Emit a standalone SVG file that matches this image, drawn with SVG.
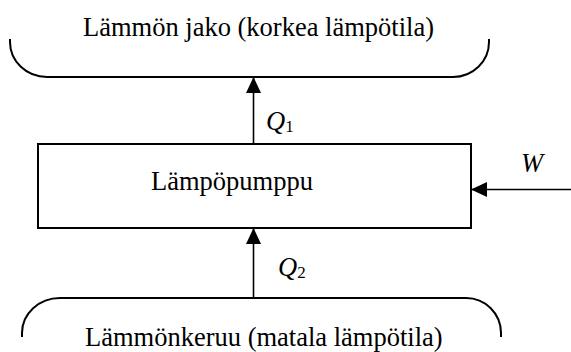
<svg xmlns="http://www.w3.org/2000/svg" width="571" height="352" viewBox="0 0 571 352">
  <style>
    text { font-family: "Times New Roman", "Liberation Serif", Times, serif; fill: #000; }
    .lbl { font-size: 26.5px; }
    .var { font-style: italic; font-size: 26.5px; }
    .sub { font-style: normal; font-size: 17px; }
    .edge { stroke: #000; stroke-width: 1.6; fill: none; }
    .brace { stroke: #000; stroke-width: 2; fill: none; }
  </style>
  <defs>
    <marker id="arrow" viewBox="0 0 16 15" refX="16" refY="7.5" markerWidth="16" markerHeight="15" markerUnits="userSpaceOnUse" orient="auto">
      <path d="M0,0 L16,7.5 L0,15 Z" fill="#000"/>
    </marker>
  </defs>

  <!-- heat distribution (high temperature) -->
  <g id="jako">
    <path class="brace" d="M10,39 V42 A37,35 0 0 0 47,77 H453 A36,35 0 0 0 489,42 V39"/>
    <text class="lbl" x="83" y="36">Lämmön jako (korkea lämpötila)</text>
  </g>

  <!-- heat pump -->
  <g id="lampopumppu">
    <rect x="38" y="144" width="433" height="84" fill="#fff" stroke="#000" stroke-width="2"/>
    <text class="lbl" x="151" y="189.5">Lämpöpumppu</text>
  </g>

  <!-- heat collection (low temperature) -->
  <g id="keruu">
    <path class="brace" d="M22,337 V333 A38,35 0 0 1 60,298 H466 A35,35 0 0 1 501,333 V337"/>
    <text class="lbl" x="85" y="346">Lämmönkeruu (matala lämpötila)</text>
  </g>

  <!-- energy flows -->
  <g id="connectors">
    <line class="edge" x1="253.5" y1="144" x2="253.5" y2="77" marker-end="url(#arrow)"/>
    <line class="edge" x1="253.5" y1="298" x2="253.5" y2="228" marker-end="url(#arrow)"/>
    <line class="edge" x1="571" y1="189.5" x2="471" y2="189.5" marker-end="url(#arrow)"/>
    <text class="var" x="266" y="130">Q<tspan class="sub" dy="2">1</tspan></text>
    <text class="var" x="278" y="276">Q<tspan class="sub" dy="2">2</tspan></text>
    <text class="var" x="521" y="172">W</text>
  </g>
</svg>
